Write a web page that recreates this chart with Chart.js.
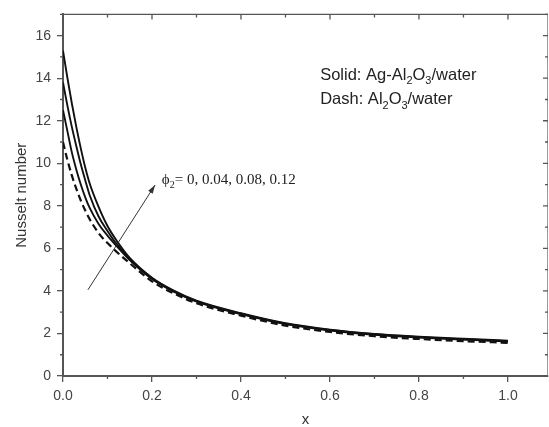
<!DOCTYPE html>
<html>
<head>
<meta charset="utf-8">
<script src="https://cdn.jsdelivr.net/npm/chart.js@4.4.1/dist/chart.umd.min.js"></script>
<style>
  html, body { margin: 0; padding: 0; background: #fff; }
  #wrap { width: 549px; height: 427px; }
</style>
</head>
<body>
<div id="wrap"><canvas id="nuChart" width="549" height="427"></canvas></div>
<script>
// x positions along the plate
var xs = [0, 0.01, 0.02, 0.03, 0.04, 0.05, 0.06, 0.08, 0.1, 0.12, 0.15, 0.2, 0.25, 0.3, 0.4, 0.5, 0.6, 0.7, 0.8, 0.9, 1.0];

// Nusselt number
var nuPhi012 = [15.3, 14.0, 12.8, 11.7, 10.7, 9.8, 9.05, 7.95, 7.05, 6.38, 5.55, 4.62, 4.0, 3.54, 2.95, 2.48, 2.18, 1.98, 1.85, 1.75, 1.66];
var nuPhi008 = [13.8, 12.7, 11.7, 10.8, 9.95, 9.2, 8.5, 7.5, 6.82, 6.22, 5.5, 4.59, 3.98, 3.52, 2.93, 2.46, 2.16, 1.96, 1.83, 1.73, 1.64];
var nuPhi004 = [12.5, 11.5, 10.5, 9.7, 9.0, 8.4, 7.9, 7.15, 6.6, 6.12, 5.45, 4.56, 3.95, 3.5, 2.91, 2.44, 2.14, 1.94, 1.81, 1.71, 1.62];
var nuPhi0 = [11.0, 10.15, 9.42, 8.8, 8.25, 7.78, 7.37, 6.72, 6.25, 5.85, 5.3, 4.45, 3.87, 3.42, 2.84, 2.37, 2.07, 1.87, 1.74, 1.64, 1.56];

var xTicks = [0, 0.2, 0.4, 0.6, 0.8, 1.0];
var yTicks = [0, 2, 4, 6, 8, 10, 12, 14, 16];

var fontSans = '"Liberation Sans", Arial, sans-serif';
var fontSerif = '"Liberation Serif", "Times New Roman", serif';
var axisColor = '#555';

function pts(ys) {
    return xs.map(function (x, i) { return { x: x, y: ys[i] }; });
}

function curve(label, ys, dashed) {
    return {
        label: label,
        data: pts(ys),
        borderColor: '#111',
        borderWidth: dashed ? 2.2 : 1.9,
        borderDash: dashed ? [7, 4] : [],
        pointRadius: 0,
        cubicInterpolationMode: 'monotone',
        fill: false
    };
}

// minor ticks, the mirrored top/right frame and the text notes
var decorations = {
    id: 'decorations',
    afterDatasetsDraw: function (chart) {
        var ctx = chart.ctx;
        var a = chart.chartArea;
        var sx = chart.scales.x, sy = chart.scales.y;
        var i, p;

        ctx.save();
        ctx.strokeStyle = axisColor;
        ctx.lineWidth = 1.3;

        // top and right frame
        ctx.beginPath();
        ctx.moveTo(a.left, a.top); ctx.lineTo(a.right, a.top);
        ctx.stroke();
        ctx.strokeStyle = '#999';
        ctx.lineWidth = 1;
        ctx.beginPath();
        ctx.moveTo(a.right - 0.5, a.top); ctx.lineTo(a.right - 0.5, a.bottom);
        ctx.stroke();

        ctx.strokeStyle = axisColor;
        ctx.lineWidth = 1.3;
        ctx.beginPath();
        for (i = 0; i <= 10; i++) {
            p = sx.getPixelForValue(i / 10);
            var major = i % 2 === 0;
            if (!major) { ctx.moveTo(p, a.bottom); ctx.lineTo(p, a.bottom + 3); }
            ctx.moveTo(p, a.top); ctx.lineTo(p, a.top + (major ? 5 : 3));
        }
        for (i = 0; i <= 17; i++) {
            p = sy.getPixelForValue(i);
            var majorY = i % 2 === 0;
            if (!majorY) { ctx.moveTo(a.left, p); ctx.lineTo(a.left - 3, p); }
            ctx.moveTo(a.right, p); ctx.lineTo(a.right - (majorY ? 5 : 3), p);
        }
        ctx.stroke();

        // arrow
        var x0 = sx.getPixelForValue(0.056), y0 = sy.getPixelForValue(4.05);
        var x1 = sx.getPixelForValue(0.207), y1 = sy.getPixelForValue(8.98);
        var ang = Math.atan2(y1 - y0, x1 - x0);
        ctx.strokeStyle = '#333';
        ctx.fillStyle = '#333';
        ctx.lineWidth = 1;
        ctx.beginPath();
        ctx.moveTo(x0, y0); ctx.lineTo(x1, y1);
        ctx.stroke();
        ctx.beginPath();
        ctx.moveTo(x1, y1);
        ctx.lineTo(x1 - 9 * Math.cos(ang - 0.3), y1 - 9 * Math.sin(ang - 0.3));
        ctx.lineTo(x1 - 9 * Math.cos(ang + 0.3), y1 - 9 * Math.sin(ang + 0.3));
        ctx.closePath();
        ctx.fill();

        // text with subscripts
        function rich(parts, x, y, size, family) {
            ctx.textBaseline = 'middle';
            ctx.textAlign = 'left';
            parts.forEach(function (part) {
                var sub = part.sub;
                ctx.font = (sub ? Math.round(size * 0.65) : size) + 'px ' + family;
                ctx.fillText(part.t, x, sub ? y + size * 0.35 : y);
                x += ctx.measureText(part.t).width;
            });
        }
        ctx.fillStyle = '#222';
        rich([{ t: 'Solid: Ag-Al' }, { t: '2', sub: true }, { t: 'O' }, { t: '3', sub: true }, { t: '/water' }],
            sx.getPixelForValue(0.578), sy.getPixelForValue(14.15), 16.5, fontSans);
        rich([{ t: 'Dash: Al' }, { t: '2', sub: true }, { t: 'O' }, { t: '3', sub: true }, { t: '/water' }],
            sx.getPixelForValue(0.578), sy.getPixelForValue(12.98), 16.5, fontSans);
        rich([{ t: '\u03d5' }, { t: '2', sub: true }, { t: '= 0, 0.04, 0.08, 0.12' }],
            sx.getPixelForValue(0.222), sy.getPixelForValue(9.2), 15, fontSerif);

        ctx.restore();
    }
};

new Chart(document.getElementById('nuChart').getContext('2d'), {
    type: 'line',
    data: {
        datasets: [
            curve('phi2 = 0.12', nuPhi012, false),
            curve('phi2 = 0.08', nuPhi008, false),
            curve('phi2 = 0.04', nuPhi004, false),
            curve('phi2 = 0', nuPhi0, true)
        ]
    },
    options: {
        responsive: false,
        animation: false,
        layout: { padding: { top: 10, right: 1, left: 0, bottom: 0 } },
        plugins: { legend: { display: false }, tooltip: { enabled: false } },
        scales: {
            x: {
                type: 'linear',
                min: 0,
                max: 1.09,
                afterFit: function (s) { s.height = 51; },
                afterBuildTicks: function (s) { s.ticks = xTicks.map(function (v) { return { value: v }; }); },
                ticks: {
                    padding: 6,
                    color: '#444',
                    font: { family: fontSans, size: 14 },
                    callback: function (v) { return v.toFixed(1); }
                },
                grid: { drawOnChartArea: false, tickLength: 6, color: axisColor, lineWidth: 1.3 },
                border: { display: true, color: axisColor, width: 2 },
                title: { display: true, text: 'x', color: '#333', font: { family: fontSans, size: 15 }, padding: { top: 0, bottom: -2 } }
            },
            y: {
                min: 0,
                max: 17,
                afterFit: function (s) { s.width = 63; },
                afterBuildTicks: function (s) { s.ticks = yTicks.map(function (v) { return { value: v }; }); },
                ticks: {
                    padding: 6,
                    color: '#444',
                    font: { family: fontSans, size: 14 },
                    callback: function (v) { return String(v); }
                },
                grid: { drawOnChartArea: false, tickLength: 6, color: axisColor, lineWidth: 1.3 },
                border: { display: true, color: axisColor, width: 2 },
                title: { display: true, text: 'Nusselt number', color: '#333', font: { family: fontSans, size: 15 }, padding: { top: 13, bottom: 0 } }
            }
        }
    },
    plugins: [decorations]
});
</script>
</body>
</html>
